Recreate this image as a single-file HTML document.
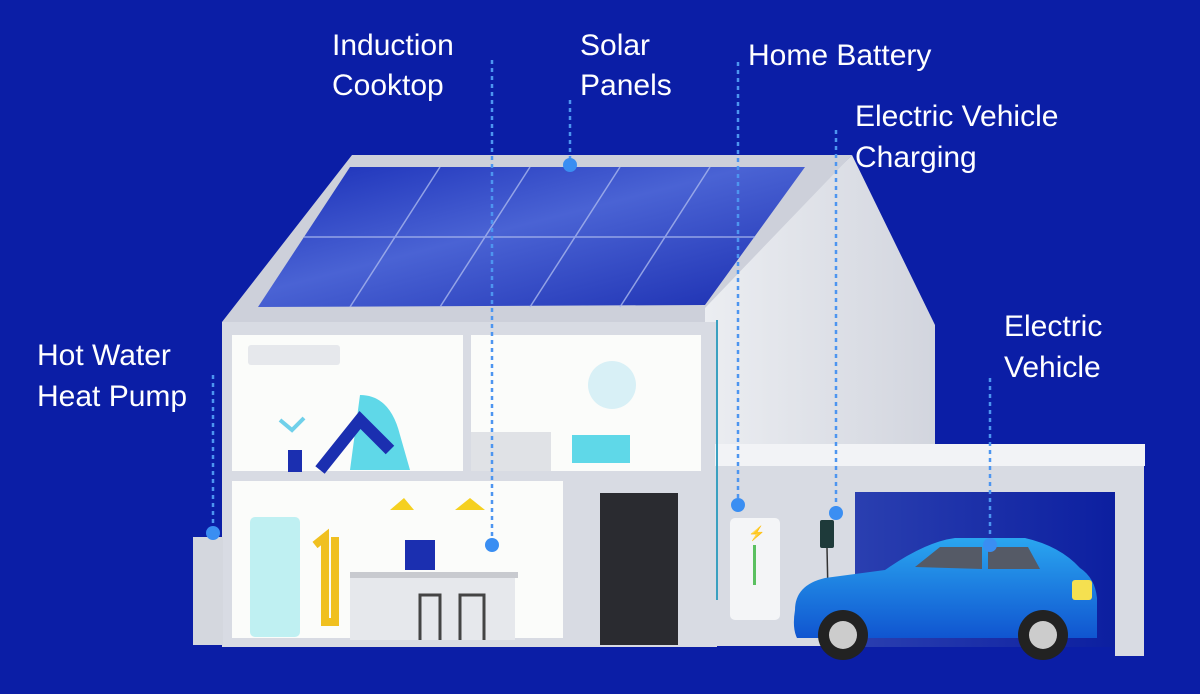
<!DOCTYPE html>
<html><head><meta charset="utf-8"><style>
html,body{margin:0;padding:0;background:#0b1ea6;}
svg{display:block}
text{font-family:"Liberation Sans",sans-serif;fill:#fff;font-size:30px;}
</style></head><body>
<svg width="1200" height="694" viewBox="0 0 1200 694" xmlns="http://www.w3.org/2000/svg">
<defs>
<linearGradient id="sol" x1="0" y1="0" x2="1" y2="1">
<stop offset="0" stop-color="#1a2fb8"/><stop offset="0.45" stop-color="#4a63d4"/><stop offset="1" stop-color="#1a2db0"/></linearGradient>
<linearGradient id="car" x1="0" y1="0" x2="0" y2="1">
<stop offset="0" stop-color="#2aa6f0"/><stop offset="1" stop-color="#1055d0"/></linearGradient>
<linearGradient id="gar" x1="0" y1="0" x2="1" y2="0">
<stop offset="0" stop-color="#2a3fb0"/><stop offset="1" stop-color="#0c1fa0"/></linearGradient>
<linearGradient id="gab" x1="0" y1="0" x2="1" y2="0">
<stop offset="0" stop-color="#eceef2"/><stop offset="1" stop-color="#d2d5de"/></linearGradient>
</defs>
<rect width="1200" height="694" fill="#0b1ea6"/>
<!-- right gable -->
<polygon points="700,305 852,155 935,325 935,460 700,460" fill="url(#gab)"/>
<!-- roof -->
<polygon points="222,322 352,155 852,155 705,308 705,322" fill="#cdd0da"/>
<polygon points="258,307 350,167 805,167 705,305" fill="url(#sol)"/>
<g stroke="#aab8ee" stroke-width="1.5" opacity="0.8">
<line x1="304" y1="237" x2="755" y2="237"/>
<line x1="440" y1="167" x2="350" y2="307"/><line x1="530" y1="167" x2="440" y2="307"/>
<line x1="620" y1="167" x2="530" y2="307"/><line x1="710" y1="167" x2="620" y2="307"/>
</g>
<!-- main body -->
<rect x="222" y="322" width="495" height="325" fill="#d8dbe3"/>
<rect x="232" y="335" width="231" height="136" fill="#fbfcfa"/>
<rect x="471" y="335" width="230" height="136" fill="#fbfcfa"/>
<rect x="232" y="481" width="331" height="157" fill="#fbfcfa"/>
<rect x="248" y="345" width="92" height="20" rx="3" fill="#e6e8ec"/>
<circle cx="612" cy="385" r="24" fill="#d8f0f6"/>
<rect x="471" y="432" width="80" height="39" fill="#e0e2e6"/>
<rect x="572" y="435" width="58" height="28" fill="#5fd8e8"/>
<rect x="600" y="493" width="78" height="152" fill="#2a2b30"/>
<rect x="250" y="517" width="50" height="120" rx="5" fill="#bff0f2"/>
<rect x="350" y="575" width="165" height="65" fill="#e6e8ec"/>
<rect x="350" y="572" width="168" height="6" fill="#c8cacf"/>
<path d="M390 510 L414 510 L404 498 Z M455 510 L485 510 L470 498 Z" fill="#f5d020"/>
<path d="M280 420 l12 10 l12-12 M292 450 v20" stroke="#6fd0ea" stroke-width="4" fill="none"/>
<rect x="288" y="450" width="14" height="22" fill="#1b2fb0"/>
<path d="M360 395 q30 0 40 40 l10 35 h-60 z" fill="#5fd8e8"/>
<path d="M320 470 l40 -50 l30 30" stroke="#1b2fb0" stroke-width="12" fill="none"/>
<path d="M315 545 l10 -8 v85 h10 v-85" stroke="#f0c020" stroke-width="8" fill="none"/>
<rect x="405" y="540" width="30" height="30" fill="#1b2fb0"/>
<path d="M420 640 v-45 h20 v45 M460 640 v-45 h24 v45" stroke="#444" stroke-width="3" fill="none"/>
<!-- heat pump -->
<rect x="193" y="537" width="30" height="108" fill="#d4d7de"/>
<!-- garage -->
<rect x="715" y="444" width="430" height="22" fill="#f2f3f6"/>
<rect x="715" y="466" width="400" height="180" fill="#d8dbe3"/>
<rect x="1115" y="466" width="29" height="190" fill="#d8dbe3"/>
<rect x="855" y="492" width="260" height="155" fill="url(#gar)"/>
<line x1="717" y1="320" x2="717" y2="600" stroke="#3aa0c0" stroke-width="2"/>
<!-- battery -->
<rect x="730" y="518" width="50" height="102" rx="5" fill="#f4f5f7"/>
<rect x="753" y="545" width="3" height="40" fill="#5ac060"/>
<text x="748" y="538" style="font-size:14px;fill:#1b2fb0">⚡</text>
<rect x="820" y="520" width="14" height="28" rx="2" fill="#1e3a3a"/>
<line x1="827" y1="548" x2="829" y2="640" stroke="#333" stroke-width="1.5"/>
<!-- car -->
<path d="M795 610 q0 -25 30 -32 l60 -8 q40 -28 70 -32 l70 0 q35 8 55 30 q15 10 17 30 v40 h-300 q-5 -10 -2 -28 z" fill="url(#car)"/>
<path d="M915 567 l25 -20 h42 l0 22 z M988 547 h40 l12 22 h-52 z" fill="#555a66"/>
<rect x="1072" y="580" width="20" height="20" rx="3" fill="#f5e050"/>
<circle cx="843" cy="635" r="25" fill="#222"/><circle cx="843" cy="635" r="14" fill="#ccc"/>
<circle cx="1043" cy="635" r="25" fill="#222"/><circle cx="1043" cy="635" r="14" fill="#ccc"/>
<!-- dotted connectors -->
<g stroke="#4d95f0" stroke-width="2.5" stroke-dasharray="4,4" fill="none">
<line x1="492" y1="60" x2="492" y2="545"/>
<line x1="570" y1="100" x2="570" y2="165"/>
<line x1="738" y1="62" x2="738" y2="505"/>
<line x1="836" y1="130" x2="836" y2="513"/>
<line x1="990" y1="378" x2="990" y2="545"/>
<line x1="213" y1="375" x2="213" y2="533"/>
</g>
<g fill="#3a8ef2">
<circle cx="492" cy="545" r="7"/><circle cx="570" cy="165" r="7"/>
<circle cx="738" cy="505" r="7"/><circle cx="836" cy="513" r="7"/>
<circle cx="990" cy="545" r="7"/><circle cx="213" cy="533" r="7"/>
</g>
<!-- labels -->
<text x="332" y="55">Induction</text><text x="332" y="95">Cooktop</text>
<text x="580" y="55">Solar</text><text x="580" y="95">Panels</text>
<text x="748" y="65">Home Battery</text>
<text x="855" y="126">Electric Vehicle</text><text x="855" y="167">Charging</text>
<text x="1004" y="336">Electric</text><text x="1004" y="377">Vehicle</text>
<text x="37" y="365">Hot Water</text><text x="37" y="406">Heat Pump</text>
</svg>
</body></html>
